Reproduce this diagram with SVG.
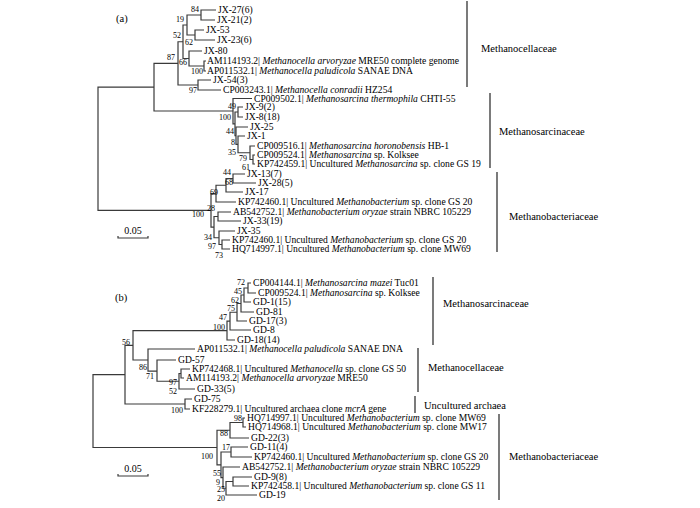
<svg xmlns="http://www.w3.org/2000/svg" width="700" height="508" viewBox="0 0 700 508">
<style>
.br{fill:none;stroke:#3a3a3a;stroke-width:1.2}
.bk{fill:none;stroke:#333;stroke-width:1.3}
text{font-family:"Liberation Serif","Times New Roman",serif;fill:#000}
.lf{font-size:9.6px}
.i{font-style:italic}
.bs{font-size:8px;text-anchor:end}
.cl{font-size:10.5px}
.pn{font-size:10.5px}
.sc{font-size:10px;text-anchor:middle}
</style>
<rect width="700" height="508" fill="#fff"/>
<g id="connectors">
<path class="br" d="M154,87.2 H98 V210.4 H211"/>
<path class="br" d="M178,63.4 H154 V111 H233"/>
<path class="br" d="M183,41.75 H178 V85 H198"/>
<path class="br" d="M187,25 H183 V58.5 H189"/>
<path class="br" d="M201,15 H187 V35 H195"/>
<path class="br" d="M216,10 H201 V20 H215"/>
<path class="br" d="M204,30 H195 V40 H215"/>
<path class="br" d="M202,51 H189 V66 H204"/>
<path class="br" d="M206,61 H204 V71 H206"/>
<path class="br" d="M211,80 H198 V90 H221"/>
<path class="br" d="M252,98.5 H233 V123.9 H235"/>
<path class="br" d="M238,112 H235 V135.7 H236"/>
<path class="br" d="M243,107 H238 V117 H243"/>
<path class="br" d="M248,127 H236 V144.4 H238"/>
<path class="br" d="M245,136 H238 V152.75 H250"/>
<path class="br" d="M255,146 H250 V159.5 H253"/>
<path class="br" d="M255,155 H253 V164 H255"/>
<path class="br" d="M216,193.6 H211 V227.1 H214"/>
<path class="br" d="M226,185.25 H216 V202 H236"/>
<path class="br" d="M233,178.5 H226 V192 H243"/>
<path class="br" d="M245,174 H233 V183 H256"/>
<path class="br" d="M218,216.5 H214 V237.75 H219"/>
<path class="br" d="M231,212 H218 V221 H241"/>
<path class="br" d="M235,231 H219 V244.5 H222"/>
<path class="br" d="M230,240 H222 V249 H230"/>
<path class="br" d="M125,374.7 H93 V447.5 H217"/>
<path class="br" d="M133,345.3 H125 V404 H185"/>
<path class="br" d="M227,330.6 H133 V360 H148"/>
<path class="br" d="M230,321.1 H227 V340 H235"/>
<path class="br" d="M237,312.25 H230 V330 H251"/>
<path class="br" d="M241,303.5 H237 V321 H247"/>
<path class="br" d="M244,295 H241 V312 H254"/>
<path class="br" d="M248,288 H244 V302 H251"/>
<path class="br" d="M251,283 H248 V293 H256"/>
<path class="br" d="M195,349 H148 V371.1 H157"/>
<path class="br" d="M176,360 H157 V381.25 H179"/>
<path class="br" d="M181,373.5 H179 V389 H195"/>
<path class="br" d="M190,369 H181 V378 H184"/>
<path class="br" d="M192,399 H185 V409 H190"/>
<path class="br" d="M230,430.25 H217 V464.8 H221"/>
<path class="br" d="M243,422.5 H230 V438 H249"/>
<path class="br" d="M245,418 H243 V427 H246"/>
<path class="br" d="M231,452 H221 V477.6 H223"/>
<path class="br" d="M248,447 H231 V457 H252"/>
<path class="br" d="M240,467 H223 V488.25 H226"/>
<path class="br" d="M233,481.5 H226 V495 H257"/>
<path class="br" d="M252,477 H233 V486 H249"/>
</g>
<g id="panel-a-label"><text class="pn" x="116" y="22">(a)</text></g>
<g id="panel-b-label"><text class="pn" x="115" y="301">(b)</text></g>
<g id="scale-a"><path class="br" d="M118,236 V238 H148 V236"/><text class="sc" x="133" y="234">0.05</text></g>
<g id="scale-b"><path class="br" d="M118,474 V476 H148 V474"/><text class="sc" x="133" y="472">0.05</text></g>
<g id="leaves-a">
<g id="a-jx27"><text class="lf" x="218" y="13.3">JX-27(6)</text></g>
<g id="a-jx21"><text class="lf" x="217" y="23.3">JX-21(2)</text></g>
<g id="a-jx53"><text class="lf" x="206" y="33.3">JX-53</text></g>
<g id="a-jx23"><text class="lf" x="217" y="43.3">JX-23(6)</text></g>
<g id="a-jx80"><text class="lf" x="204" y="54.3">JX-80</text></g>
<g id="a-am114193"><text class="lf" x="207" y="64.3">AM114193.2| <tspan class="i">Methanocella arvoryzae</tspan> MRE50 complete genome</text></g>
<g id="a-ap011532"><text class="lf" x="207" y="74.3">AP011532.1| <tspan class="i">Methanocella paludicola</tspan> SANAE DNA</text></g>
<g id="a-jx54"><text class="lf" x="213" y="83.3">JX-54(3)</text></g>
<g id="a-cp003243"><text class="lf" x="223" y="93.3">CP003243.1| <tspan class="i">Methanocella conradii</tspan> HZ254</text></g>
<g id="a-cp009502"><text class="lf" x="254" y="101.8">CP009502.1| <tspan class="i">Methanosarcina thermophila</tspan> CHTI-55</text></g>
<g id="a-jx9"><text class="lf" x="245" y="110.3">JX-9(2)</text></g>
<g id="a-jx8"><text class="lf" x="245" y="120.3">JX-8(18)</text></g>
<g id="a-jx25"><text class="lf" x="250" y="130.3">JX-25</text></g>
<g id="a-jx1"><text class="lf" x="247" y="139.3">JX-1</text></g>
<g id="a-cp009516"><text class="lf" x="257" y="149.3">CP009516.1| <tspan class="i">Methanosarcina horonobensis</tspan> HB-1</text></g>
<g id="a-cp009524"><text class="lf" x="257" y="158.3">CP009524.1| <tspan class="i">Methanosarcina</tspan> sp. Kolksee</text></g>
<g id="a-kp742459"><text class="lf" x="257" y="167.3">KP742459.1| Uncultured <tspan class="i">Methanosarcina</tspan> sp. clone GS 19</text></g>
<g id="a-jx13"><text class="lf" x="247" y="177.3">JX-13(7)</text></g>
<g id="a-jx28"><text class="lf" x="258" y="186.3">JX-28(5)</text></g>
<g id="a-jx17"><text class="lf" x="245" y="195.3">JX-17</text></g>
<g id="a-kp742460a"><text class="lf" x="238" y="205.3">KP742460.1| Uncultured <tspan class="i">Methanobacterium</tspan> sp. clone GS 20</text></g>
<g id="a-ab542752"><text class="lf" x="233" y="215.3">AB542752.1| <tspan class="i">Methanobacterium oryzae</tspan> strain NBRC 105229</text></g>
<g id="a-jx33"><text class="lf" x="243" y="224.3">JX-33(19)</text></g>
<g id="a-jx35"><text class="lf" x="237" y="234.3">JX-35</text></g>
<g id="a-kp742460b"><text class="lf" x="232" y="243.3">KP742460.1| Uncultured <tspan class="i">Methanobacterium</tspan> sp. clone GS 20</text></g>
<g id="a-hq714997"><text class="lf" x="232" y="252.3">HQ714997.1| Uncultured <tspan class="i">Methanobacterium</tspan> sp. clone MW69</text></g>
</g>
<g id="leaves-b">
<g id="b-cp004144"><text class="lf" x="253" y="286.3">CP004144.1| <tspan class="i">Methanosarcina mazei</tspan> Tuc01</text></g>
<g id="b-cp009524"><text class="lf" x="258" y="296.3">CP009524.1| <tspan class="i">Methanosarcina</tspan> sp. Kolksee</text></g>
<g id="b-gd1"><text class="lf" x="253" y="305.3">GD-1(15)</text></g>
<g id="b-gd81"><text class="lf" x="256" y="315.3">GD-81</text></g>
<g id="b-gd17"><text class="lf" x="249" y="324.3">GD-17(3)</text></g>
<g id="b-gd8"><text class="lf" x="253" y="333.3">GD-8</text></g>
<g id="b-gd18"><text class="lf" x="237" y="343.3">GD-18(14)</text></g>
<g id="b-ap011532"><text class="lf" x="197" y="352.3">AP011532.1| <tspan class="i">Methanocella paludicola</tspan> SANAE DNA</text></g>
<g id="b-gd57"><text class="lf" x="178" y="363.3">GD-57</text></g>
<g id="b-kp742468"><text class="lf" x="192" y="372.3">KP742468.1| Uncultured <tspan class="i">Methanocella</tspan> sp. clone GS 50</text></g>
<g id="b-am114193"><text class="lf" x="186" y="381.3">AM114193.2| <tspan class="i">Methanocella arvoryzae</tspan> MRE50</text></g>
<g id="b-gd33"><text class="lf" x="197" y="392.3">GD-33(5)</text></g>
<g id="b-gd75"><text class="lf" x="194" y="402.3">GD-75</text></g>
<g id="b-kf228279"><text class="lf" x="192" y="412.3">KF228279.1| Uncultured archaea clone <tspan class="i">mcrA</tspan> gene</text></g>
<g id="b-hq714997"><text class="lf" x="247" y="421.3">HQ714997.1| Uncultured <tspan class="i">Methanobacterium</tspan> sp. clone MW69</text></g>
<g id="b-hq714968"><text class="lf" x="248" y="430.3">HQ714968.1| Uncultured <tspan class="i">Methanobacterium</tspan> sp. clone MW17</text></g>
<g id="b-gd22"><text class="lf" x="251" y="441.3">GD-22(3)</text></g>
<g id="b-gd11"><text class="lf" x="250" y="450.3">GD-11(4)</text></g>
<g id="b-kp742460"><text class="lf" x="254" y="460.3">KP742460.1| Uncultured <tspan class="i">Methanobacterium</tspan> sp. clone GS 20</text></g>
<g id="b-ab542752"><text class="lf" x="242" y="470.3">AB542752.1| <tspan class="i">Methanobacterium oryzae</tspan> strain NBRC 105229</text></g>
<g id="b-gd9"><text class="lf" x="254" y="480.3">GD-9(8)</text></g>
<g id="b-kp742458"><text class="lf" x="251" y="489.3">KP742458.1| Uncultured <tspan class="i">Methanobacterium</tspan> sp. clone GS 11</text></g>
<g id="b-gd19"><text class="lf" x="259" y="498.3">GD-19</text></g>
</g>
<g id="bootstrap">
<text class="bs" x="199" y="12">84</text>
<text class="bs" x="184" y="22">19</text>
<text class="bs" x="193" y="45">62</text>
<text class="bs" x="181" y="38">52</text>
<text class="bs" x="175" y="60">87</text>
<text class="bs" x="187" y="65">66</text>
<text class="bs" x="203" y="74">100</text>
<text class="bs" x="197" y="93">97</text>
<text class="bs" x="236" y="109">49</text>
<text class="bs" x="231" y="120">100</text>
<text class="bs" x="234" y="134">44</text>
<text class="bs" x="235" y="145">8</text>
<text class="bs" x="236" y="155">35</text>
<text class="bs" x="247" y="161">79</text>
<text class="bs" x="250" y="170">61</text>
<text class="bs" x="231" y="175">44</text>
<text class="bs" x="233" y="185">68</text>
<text class="bs" x="218" y="195">69</text>
<text class="bs" x="204" y="217">100</text>
<text class="bs" x="215" y="211">28</text>
<text class="bs" x="212" y="240">34</text>
<text class="bs" x="216" y="249">97</text>
<text class="bs" x="223" y="258">73</text>
<text class="bs" x="245" y="285">72</text>
<text class="bs" x="242" y="294">45</text>
<text class="bs" x="239" y="303">62</text>
<text class="bs" x="235" y="311">75</text>
<text class="bs" x="227" y="320">47</text>
<text class="bs" x="225" y="330">100</text>
<text class="bs" x="130" y="345">56</text>
<text class="bs" x="147" y="370">86</text>
<text class="bs" x="154" y="379">71</text>
<text class="bs" x="177" y="385">97</text>
<text class="bs" x="177" y="394">52</text>
<text class="bs" x="183" y="413">100</text>
<text class="bs" x="242" y="421">98</text>
<text class="bs" x="228" y="436">88</text>
<text class="bs" x="230" y="450">17</text>
<text class="bs" x="213" y="459">100</text>
<text class="bs" x="221" y="476">55</text>
<text class="bs" x="220" y="485">9</text>
<text class="bs" x="225" y="492">25</text>
<text class="bs" x="225" y="501">20</text>
</g>
<g id="clade-a-methanocellaceae"><path class="bk" d="M467,1 V87"/><text class="cl" x="481" y="52">Methanocellaceae</text></g>
<g id="clade-a-methanosarcinaceae"><path class="bk" d="M490,93 V168"/><text class="cl" x="499" y="135">Methanosarcinaceae</text></g>
<g id="clade-a-methanobacteriaceae"><path class="bk" d="M497,172 V252"/><text class="cl" x="509" y="220">Methanobacteriaceae</text></g>
<g id="clade-b-methanosarcinaceae"><path class="bk" d="M433,277 V345"/><text class="cl" x="443" y="307">Methanosarcinaceae</text></g>
<g id="clade-b-methanocellaceae"><path class="bk" d="M418,348 V392"/><text class="cl" x="428" y="371">Methanocellaceae</text></g>
<g id="clade-b-uncultured"><path class="bk" d="M415,396 V413"/><text class="cl" x="424" y="409">Uncultured archaea</text></g>
<g id="clade-b-methanobacteriaceae"><path class="bk" d="M499,414 V500"/><text class="cl" x="509" y="460">Methanobacteriaceae</text></g>
</svg>
